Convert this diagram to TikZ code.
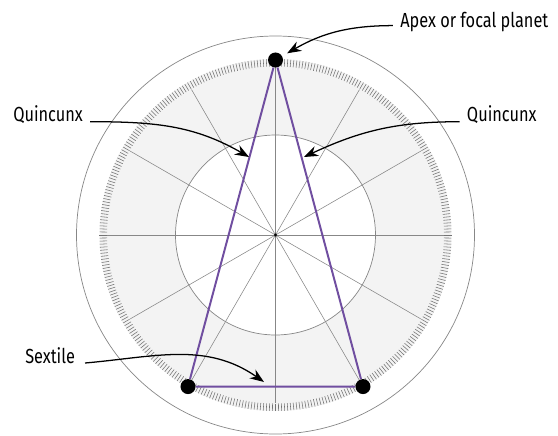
\documentclass[tikz,border=0pt]{standalone}
\usepackage{fontspec}
\setmainfont[FakeStretch=0.8]{Fira Sans}
\usepackage{tikz}
\usetikzlibrary{arrows.meta,positioning,calc}

\definecolor{aspectpurple}{RGB}{112,78,160}
\definecolor{ringgray}{RGB}{243,243,243}
\definecolor{wheelgray}{RGB}{135,135,135}

\begin{document}
\begin{tikzpicture}[
  x=0.025cm, y=0.025cm,
  wheel/.style={draw=wheelgray, line width=0.5pt},
  spoke/.style={draw=wheelgray, line width=0.4pt},
  tickmark/.style={draw=black!55, line width=0.4pt},
  planet/.style={circle, fill=black, inner sep=0pt, minimum size=0.375cm},
  aspect/.style={draw=aspectpurple, line width=1.4pt},
  lbl/.style={inner sep=0pt, font=\fontsize{14.5}{16}\selectfont},
  arr/.style={-{Stealth[length=10pt,width=7.5pt]}, line width=0.9pt}
]
\useasboundingbox (-275.5,-200) rectangle (282.5,235);

% wheel
\fill[ringgray, even odd rule] (0,0) circle[radius=176] circle[radius=100];
\draw[wheel] (0,0) circle[radius=199];
\draw[wheel] (0,0) circle[radius=100];
\foreach \a in {0,30,...,330}
  \draw[spoke] (0,0) -- (\a:168);
\foreach \a in {0,...,359}
  \draw[tickmark] (\a:168.5) -- (\a:176);
\fill (0,0) circle[radius=1.6];

% planets and aspects
\node[planet] (apex) at (90:175) {};
\node[planet] (sexl) at (240:175) {};
\node[planet] (sexr) at (300:175) {};
\draw[aspect] (apex) -- (sexl) -- (sexr) -- (apex);

% labels
\node[lbl, anchor=base west] (apexlbl) at (124.5,208) {Apex or focal planet};
\node[lbl, anchor=base west] (quinl) at (-262.5,113.3) {Quincunx};
\node[lbl, anchor=base west] (quinr) at (191.2,113.3) {Quincunx};
\node[lbl, anchor=base west] (sextlbl) at (-250.5,-128) {Sextile};

\coordinate (quinltip) at (-26.5,78);
\coordinate (quinrtip) at (28.5,78);
\coordinate (sexttip) at (-11.5,-147);

\draw[arr, shorten >=4pt] ([xshift=-5pt,yshift=1pt]apexlbl.base west) to[out=180,in=30] (apex);
\draw[arr] ([xshift=5pt]quinl.base east) to[out=0,in=150] (quinltip);
\draw[arr] ([xshift=-5pt]quinr.base west) to[out=180,in=25] (quinrtip);
\draw[arr] ([xshift=7pt]sextlbl.base east) to[out=5,in=145] (sexttip);
\end{tikzpicture}
\end{document}
